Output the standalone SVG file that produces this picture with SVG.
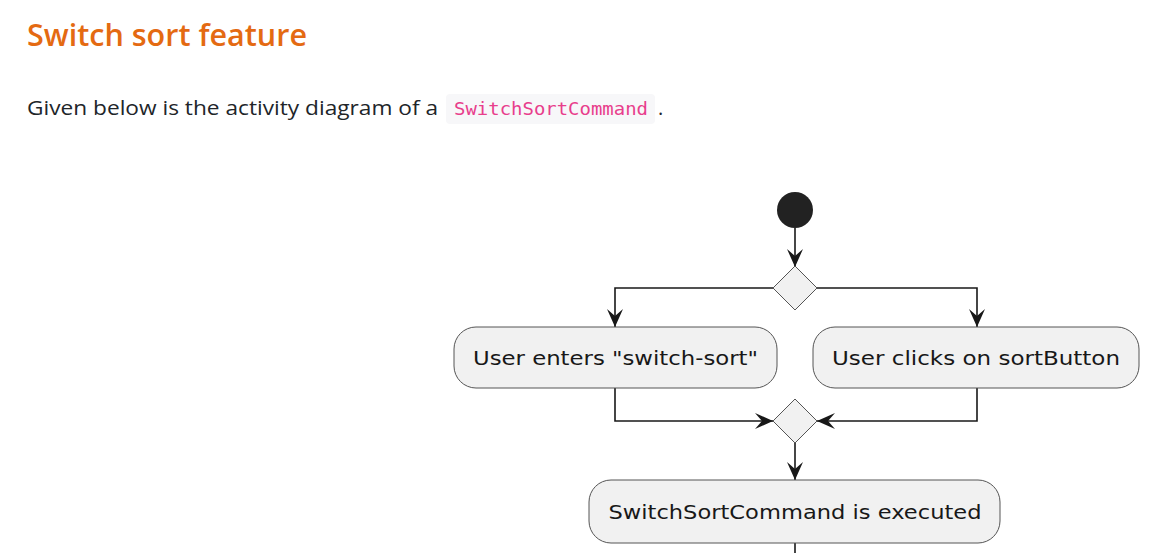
<svg xmlns="http://www.w3.org/2000/svg" width="1152" height="553" viewBox="0 0 1152 553">
<style>
.h{font-family:"Open Sans","Noto Sans","Liberation Sans",sans-serif;font-weight:600;font-size:30px;fill:#E46A12}
.p{font-family:"Open Sans","Noto Sans","Liberation Sans",sans-serif;font-size:20px;fill:#212529}
.code{font-family:"DejaVu Sans Mono","Liberation Mono",monospace;font-size:17px;fill:#E83E8C}
.node{fill:#F1F1F1;stroke:#555555;stroke-width:1}
.lbl{font-family:"DejaVu Sans","Liberation Sans",sans-serif;font-size:20px;fill:#181818;text-anchor:middle}
.edge{fill:none;stroke:#181818;stroke-width:1.6}
</style>
<defs>
<marker id="arr" viewBox="0 0 18 16" refX="18" refY="8" markerWidth="18" markerHeight="16" orient="auto" markerUnits="userSpaceOnUse">
<path d="M18,8 L0,0 L7,8 L0,16 Z" fill="#181818"/>
</marker>
</defs>
<rect width="1152" height="553" fill="#FFFFFF"/>
<text class="h" x="27" y="46" textLength="280" lengthAdjust="spacingAndGlyphs">Switch sort feature</text>
<text class="p" x="27" y="115" textLength="411" lengthAdjust="spacingAndGlyphs">Given below is the activity diagram of a</text>
<rect x="446" y="94" width="209" height="30" rx="4" fill="#F7F7F9"/>
<text class="code" x="454" y="115" textLength="194" lengthAdjust="spacingAndGlyphs">SwitchSortCommand</text>
<text class="p" x="658" y="115">.</text>
<g id="connectors">
<path class="edge" d="M795,228 L795,267" marker-end="url(#arr)"/>
<path class="edge" d="M773,288 L615,288 L615,327" marker-end="url(#arr)"/>
<path class="edge" d="M817,288 L977,288 L977,327" marker-end="url(#arr)"/>
<path class="edge" d="M615,388 L615,421 L773,421" marker-end="url(#arr)"/>
<path class="edge" d="M977,388 L977,421 L817,421" marker-end="url(#arr)"/>
<path class="edge" d="M795,443 L795,480" marker-end="url(#arr)"/>
<path class="edge" d="M795,543 L795,553"/>
</g>
<g id="start"><circle cx="795" cy="210" r="18" fill="#222222"/></g>
<g id="split"><polygon class="node" points="795,266 817,288 795,310 773,288"/></g>
<g id="enter">
<rect class="node" x="454" y="327" width="323" height="61" rx="22"/>
<text class="lbl" x="615.5" y="365" textLength="285" lengthAdjust="spacingAndGlyphs">User enters "switch-sort"</text>
</g>
<g id="click">
<rect class="node" x="813" y="327" width="326" height="61" rx="22"/>
<text class="lbl" x="976" y="365" textLength="288" lengthAdjust="spacingAndGlyphs">User clicks on sortButton</text>
</g>
<g id="merge"><polygon class="node" points="795,399 817,421 795,443 773,421"/></g>
<g id="exec">
<rect class="node" x="589" y="480" width="411" height="63" rx="22"/>
<text class="lbl" x="795" y="519" textLength="373" lengthAdjust="spacingAndGlyphs">SwitchSortCommand is executed</text>
</g>
</svg>
